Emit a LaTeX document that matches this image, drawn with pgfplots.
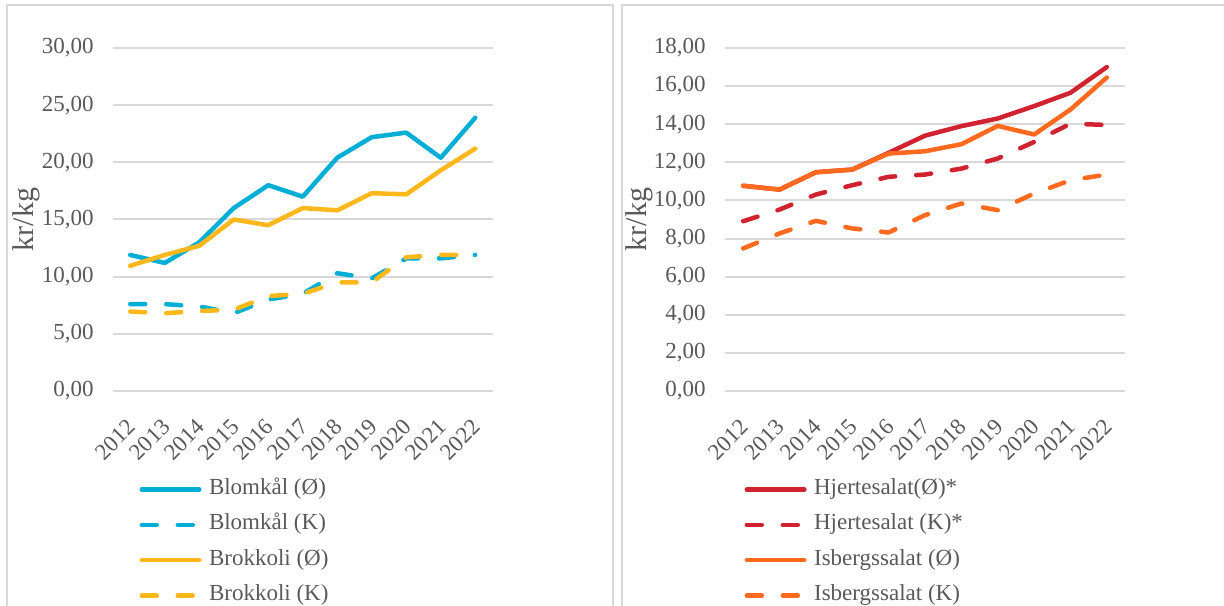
\documentclass[border=0pt]{standalone}
\usepackage{pgfplots}
\pgfplotsset{compat=1.18}
\usepackage{fontspec}
\setmainfont{Liberation Serif}
\definecolor{cblue}{HTML}{00AED6}
\definecolor{cyel}{HTML}{FFB81C}
\definecolor{cred}{HTML}{D0232F}
\definecolor{corg}{HTML}{FF6A1F}
\definecolor{tgray}{HTML}{595959}
\definecolor{ggray}{HTML}{D9D9D9}
\pgfplotsset{
  myax/.style={
    scale only axis, height=171.5bp,
    xmin=2011.5, xmax=2022.5, ymin=0,
    axis line style={draw=none}, tick style={draw=none},
    ymajorgrids, grid style={ggray, line width=1bp},
    xtick={2012,...,2022},
    xticklabels={2012,2013,2014,2015,2016,2017,2018,2019,2020,2021,2022},
    xticklabel style={font=\fontsize{11.5bp}{13bp}\selectfont, text=tgray, xshift=0.75bp, yshift=-16bp, rotate=45, anchor=east, inner sep=0pt},
    yticklabel style={font=\fontsize{11.5bp}{13bp}\selectfont, text=tgray, anchor=east, inner sep=0pt, xshift=-9.5bp},
    /pgf/number format/.cd, fixed, fixed zerofill, precision=2, use comma, assume math mode=true, /pgfplots/.cd,
    ylabel={kr/kg},
    ylabel style={font=\fontsize{15bp}{17bp}\selectfont, text=tgray, anchor=center},
    legend cell align=left,
    legend style={draw=none, fill=none, anchor=north west, inner sep=0pt, row sep=6.7bp,
      font=\fontsize{11.5bp}{13bp}\selectfont, text=tgray,
      nodes={inner sep=0pt, text height=8bp, text depth=3bp}},
    legend image code/.code={\draw[##1] (0bp,0bp) -- (28.75bp,0bp); \path (32.5bp,0bp);},
    every axis plot/.append style={line width=2.25bp, line cap=round, line join=round},
  },
  dsh/.style={dash pattern=on 7.5bp off 10.5bp},
}
\begin{document}
\begin{tikzpicture}
\useasboundingbox (0,0) rectangle (612bp,303bp);
\draw[ggray, line width=1bp] (3.5bp,-5bp) -- (3.5bp,300.5bp) -- (306.5bp,300.5bp) -- (306.5bp,-5bp);
\draw[ggray, line width=1bp] (311bp,-5bp) -- (311bp,300.5bp) -- (620bp,300.5bp);
\begin{axis}[myax, at={(56.5bp,107.5bp)}, anchor=origin, width=189.75bp, ymax=30, ytick={0,5,...,30},
  ylabel style={at={(axis description cs:-0.229,0.5)}},
  legend style={at={(axis description cs:0.0688,-0.2536)}}]
\addplot[cblue] coordinates {(2012,11.9)(2013,11.2)(2014,13.0)(2015,16.0)(2016,18.0)(2017,17.0)(2018,20.4)(2019,22.2)(2020,22.6)(2021,20.4)(2022,23.9)};
\addlegendentry{Blomkål (Ø)}
\addplot[cblue, dsh] coordinates {(2012,7.6)(2013,7.6)(2014,7.4)(2015,6.8)(2016,8.0)(2017,8.5)(2018,10.3)(2019,9.85)(2020,11.6)(2021,11.6)(2022,11.9)};
\addlegendentry{Blomkål (K)}
\addplot[cyel] coordinates {(2012,10.95)(2013,11.9)(2014,12.7)(2015,15.0)(2016,14.5)(2017,16.0)(2018,15.8)(2019,17.3)(2020,17.2)(2021,19.3)(2022,21.2)};
\addlegendentry{Brokkoli (Ø)}
\addplot[cyel, dsh] coordinates {(2012,6.95)(2013,6.8)(2014,7.0)(2015,7.1)(2016,8.3)(2017,8.5)(2018,9.5)(2019,9.5)(2020,11.7)(2021,11.9)(2022,11.9)};
\addlegendentry{Brokkoli (K)}
\end{axis}
\begin{axis}[myax, at={(362.5bp,107.5bp)}, anchor=origin, width=200bp, ymax=18, ytick={0,2,...,18},
  ylabel style={at={(axis description cs:-0.215,0.5)}},
  legend style={at={(axis description cs:0.048,-0.2536)}}]
\addplot[cred] coordinates {(2012,10.77)(2013,10.57)(2014,11.48)(2015,11.62)(2016,12.5)(2017,13.4)(2018,13.9)(2019,14.3)(2020,14.95)(2021,15.65)(2022,17.0)};
\addlegendentry{Hjertesalat(Ø)*}
\addplot[cred, dsh] coordinates {(2012,8.91)(2013,9.52)(2014,10.31)(2015,10.8)(2016,11.24)(2017,11.36)(2018,11.67)(2019,12.2)(2020,13.07)(2021,14.03)(2022,13.96)};
\addlegendentry{Hjertesalat (K)*}
\addplot[corg] coordinates {(2012,10.77)(2013,10.57)(2014,11.48)(2015,11.62)(2016,12.46)(2017,12.58)(2018,12.95)(2019,13.91)(2020,13.46)(2021,14.77)(2022,16.45)};
\addlegendentry{Isbergssalat (Ø)}
\addplot[corg, dsh] coordinates {(2012,7.48)(2013,8.27)(2014,8.93)(2015,8.53)(2016,8.32)(2017,9.23)(2018,9.84)(2019,9.49)(2020,10.36)(2021,11.06)(2022,11.36)};
\addlegendentry{Isbergssalat (K)}
\end{axis}
\end{tikzpicture}
\end{document}
